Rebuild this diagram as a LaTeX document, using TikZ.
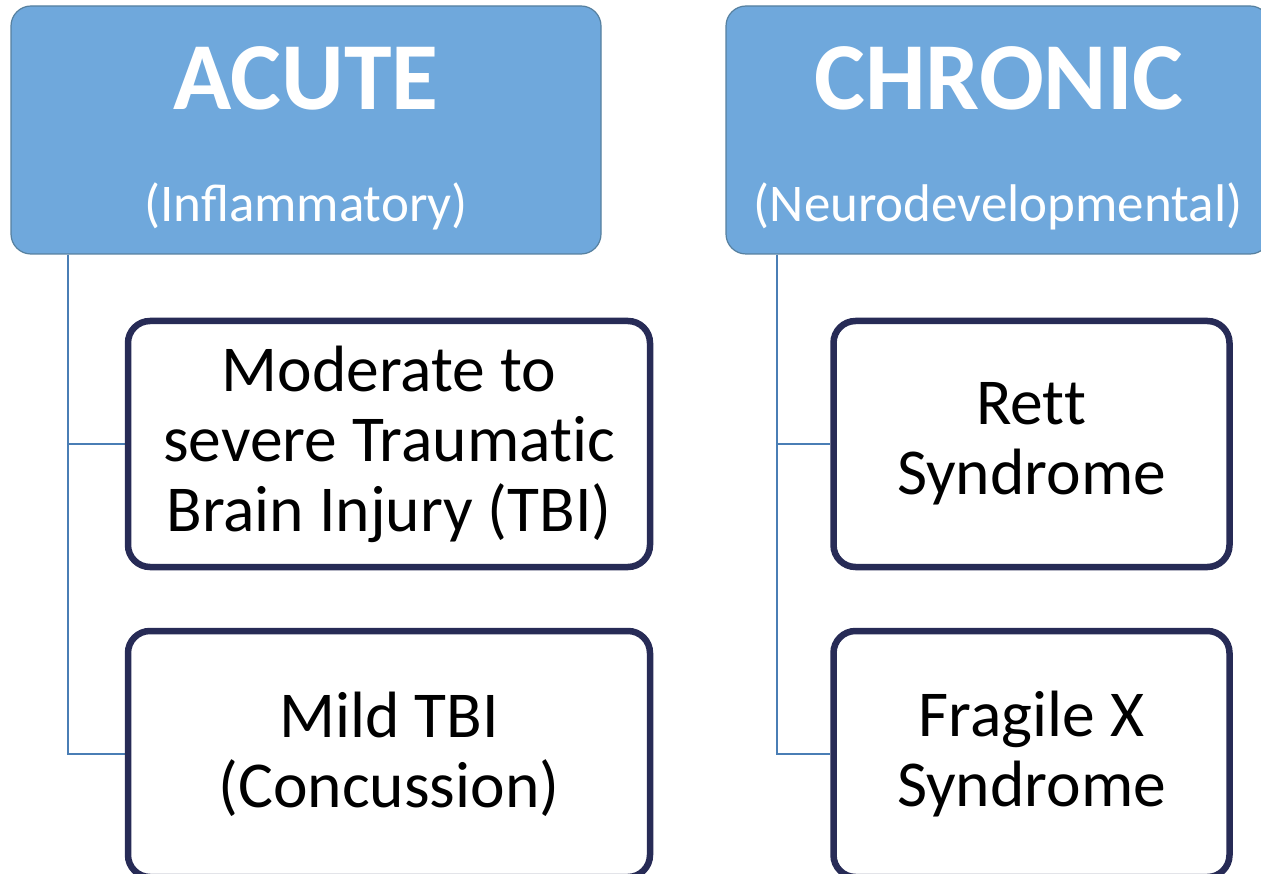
\documentclass[tikz,border=0pt]{standalone}
\usepackage{fontspec}
\setmainfont{Carlito}
\usepackage{xcolor}
\usetikzlibrary{backgrounds}
\definecolor{headblue}{HTML}{6FA8DC}
\definecolor{headedge}{HTML}{56809F}
\definecolor{boxnavy}{HTML}{272B56}
\definecolor{linkblue}{HTML}{4A7EB5}
% no t-i / t-t ligatures, as in the slide
\newcommand{\nolig}{\kern0pt{}}

\begin{document}
\begin{tikzpicture}[x=1pt,y=-1pt,
	head/.style={draw=headedge,line width=1.2pt,fill=headblue,rounded corners=20pt,minimum height=248pt,inner sep=0pt},
	headtitle/.style={anchor=base,text=white,inner sep=0pt,font=\fontsize{96}{100}\selectfont\bfseries},
	headsub/.style={anchor=base,text=white,inner sep=0pt,font=\fontsize{53}{58}\selectfont},
	item/.style={draw=boxnavy,line width=6.5pt,fill=white,rounded corners=22pt,minimum height=246pt,inner sep=0pt,align=center,font=\fontsize{65.5}{70}\selectfont},
	link/.style={draw=linkblue,line width=2pt}]
		\useasboundingbox (0,0) rectangle (1261,874);
		% headers
		\node[head,minimum width=590pt] (acute) at (306,130) {};
		\node[head,minimum width=544pt] (chronic) at (998,130) {};
		\node[headtitle] (acutet) at (306,110) {ACUTE};
		\node[headsub] (acutes) at (306,222) {(Inflammatory)};
		\node[headtitle] (chronict) at (999,110) {CHRONIC};
		\node[headsub] (chronics) at (998,222) {(Neurodevelopmental)};
		% items
		\node[item,minimum width=522pt] (tbi) at (389,444) {Moderate to\\severe Traumat\nolig ic\\Brain Injury (TBI)};
		\node[item,minimum width=522pt] (mild) at (389,754) {Mild TBI\\(Concussion)};
		\node[item,minimum width=396pt] (rett) at (1031.5,444) {Ret\nolig t\\Syndrome};
		\node[item,minimum width=396pt] (fragx) at (1031.5,754) {Fragile X\\Syndrome};
		% connectors
		\coordinate (acutestem) at ([xshift=58pt]acute.south west);
		\coordinate (chronicstem) at ([xshift=52pt]chronic.south west);
		\begin{scope}[on background layer]
			\draw[link] (acutestem) |- (tbi.west);
			\draw[link] (acutestem) |- (mild.west);
			\draw[link] (chronicstem) |- (rett.west);
			\draw[link] (chronicstem) |- (fragx.west);
		\end{scope}
\end{tikzpicture}
\end{document}
